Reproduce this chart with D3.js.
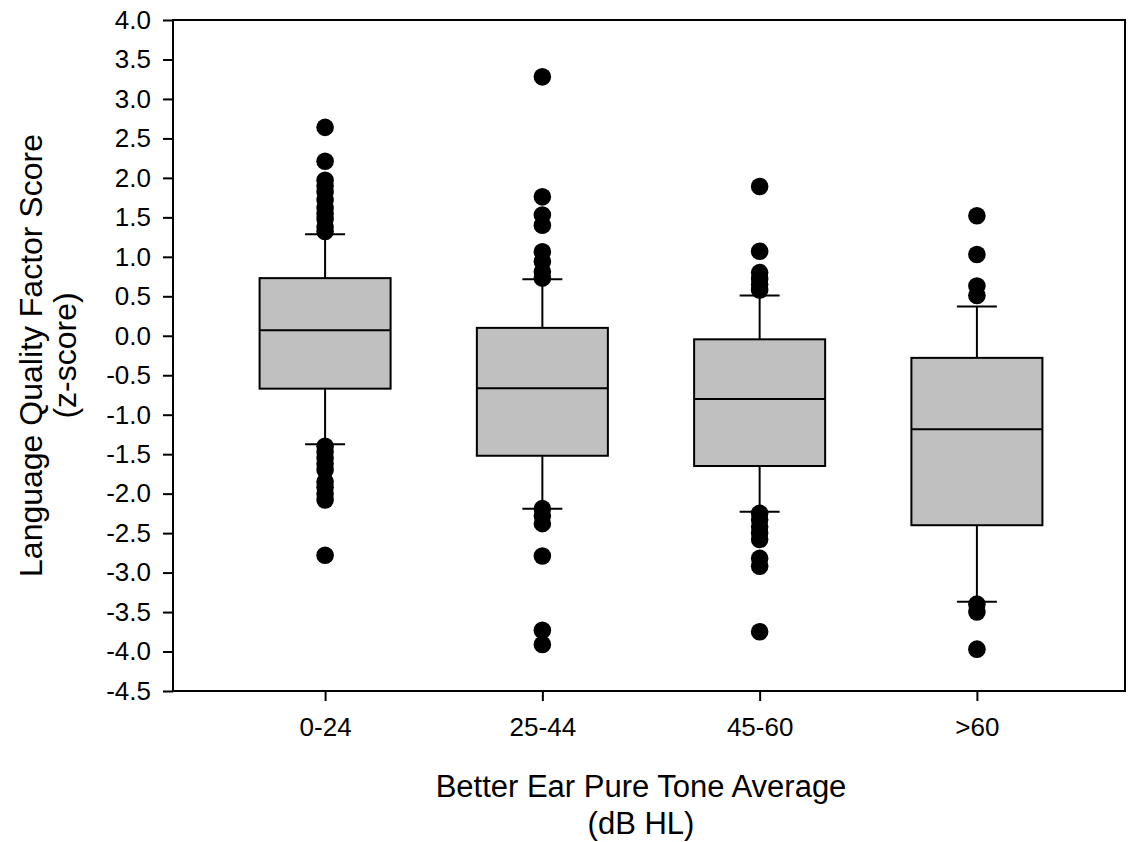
<!DOCTYPE html>
<html>
<head>
<meta charset="utf-8">
<script src="https://cdn.jsdelivr.net/npm/d3@7"></script>
<style>
  html, body { margin: 0; padding: 0; background: #fff; }
  svg { display: block; font-family: "Liberation Sans", Arial, Helvetica, sans-serif; }
</style>
</head>
<body>
<svg id="chart" width="1129" height="842"></svg>
<script>
// ---- Data ----
const categories = ["0-24", "25-44", "45-60", ">60"];
const q1Values = [-0.67, -1.52, -1.65, -2.40];
const medianValues = [0.07, -0.665, -0.80, -1.185];
const q3Values = [0.73, 0.10, -0.045, -0.28];
const whiskerLowValues = [-1.375, -2.19, -2.23, -3.37];
const whiskerHighValues = [1.285, 0.715, 0.51, 0.37];
const outliers0 = [2.64, 2.21, 1.97, 1.90, 1.82, 1.72, 1.62, 1.55, 1.48, 1.38, 1.32,
                   -1.40, -1.47, -1.55, -1.62, -1.70, -1.85, -1.92, -2.00, -2.08, -2.78];
const outliers1 = [3.28, 1.76, 1.53, 1.40, 1.065, 0.94, 0.81, 0.73,
                   -2.19, -2.28, -2.38, -2.79, -3.73, -3.91];
const outliers2 = [1.89, 1.07, 0.80, 0.72, 0.65, 0.58,
                   -2.25, -2.33, -2.42, -2.50, -2.58, -2.82, -2.92, -3.75];
const outliers3 = [1.52, 1.03, 0.63, 0.51, -3.40, -3.50, -3.97];
const outlierLists = [outliers0, outliers1, outliers2, outliers3];
const yTickValues = [-4.5, -4.0, -3.5, -3.0, -2.5, -2.0, -1.5, -1.0, -0.5, 0.0, 0.5, 1.0, 1.5, 2.0, 2.5, 3.0, 3.5, 4.0];
const yTickLabels = ["-4.5", "-4.0", "-3.5", "-3.0", "-2.5", "-2.0", "-1.5", "-1.0", "-0.5", "0.0", "0.5", "1.0", "1.5", "2.0", "2.5", "3.0", "3.5", "4.0"];
const xTitleLines = ["Better Ear Pure Tone Average", "(dB HL)"];
const yTitleLines = ["Language Quality Factor Score", "(z-score)"];

// ---- Layout ----
const plotLeft = 173, plotRight = 1125, plotTop = 20, plotBottom = 691;
const svg = d3.select("#chart");

const y = d3.scaleLinear().domain([-4.5, 4.0]).range([plotBottom, plotTop]);
const x = d3.scalePoint().domain(categories).range([plotLeft, 1129]).padding(0.7);
const boxW = x.step() * 0.603;
const capW = x.step() * 0.184;

// Frame
svg.append("rect")
  .attr("x", plotLeft).attr("y", plotTop)
  .attr("width", plotRight - plotLeft).attr("height", plotBottom - plotTop)
  .attr("fill", "none").attr("stroke", "#000").attr("stroke-width", 2);

// Y axis
const yAxis = d3.axisLeft(y)
  .tickValues(yTickValues)
  .tickFormat((d, i) => yTickLabels[i])
  .tickSizeInner(10).tickSizeOuter(0).tickPadding(12);
const gy = svg.append("g").attr("transform", `translate(${plotLeft},0)`).call(yAxis);
gy.select(".domain").remove();
gy.selectAll("line").attr("stroke", "#000").attr("stroke-width", 2);
gy.selectAll("text").attr("font-size", 26).attr("fill", "#000")
  .attr("font-family", "'Liberation Sans', Arial, sans-serif");

// X axis
const xAxis = d3.axisBottom(x).tickSizeInner(10).tickSizeOuter(0).tickPadding(17);
const gx = svg.append("g").attr("transform", `translate(0,${plotBottom})`).call(xAxis);
gx.select(".domain").remove();
gx.selectAll("line").attr("stroke", "#000").attr("stroke-width", 2);
gx.selectAll("text").attr("font-size", 26).attr("fill", "#000")
  .attr("font-family", "'Liberation Sans', Arial, sans-serif");

// Boxes
const groups = categories.map((c, i) => ({
  cat: c, q1: q1Values[i], med: medianValues[i], q3: q3Values[i],
  lo: whiskerLowValues[i], hi: whiskerHighValues[i], out: outlierLists[i]
}));

const g = svg.append("g");
const bg = g.selectAll("g.box").data(groups).join("g").attr("class", "box");

// whiskers
bg.append("line")
  .attr("x1", d => x(d.cat)).attr("x2", d => x(d.cat))
  .attr("y1", d => y(d.q3)).attr("y2", d => y(d.hi))
  .attr("stroke", "#000").attr("stroke-width", 2);
bg.append("line")
  .attr("x1", d => x(d.cat)).attr("x2", d => x(d.cat))
  .attr("y1", d => y(d.q1)).attr("y2", d => y(d.lo))
  .attr("stroke", "#000").attr("stroke-width", 2);
// caps
bg.append("line")
  .attr("x1", d => x(d.cat) - capW / 2).attr("x2", d => x(d.cat) + capW / 2)
  .attr("y1", d => y(d.hi)).attr("y2", d => y(d.hi))
  .attr("stroke", "#000").attr("stroke-width", 2);
bg.append("line")
  .attr("x1", d => x(d.cat) - capW / 2).attr("x2", d => x(d.cat) + capW / 2)
  .attr("y1", d => y(d.lo)).attr("y2", d => y(d.lo))
  .attr("stroke", "#000").attr("stroke-width", 2);
// box
bg.append("rect")
  .attr("x", d => x(d.cat) - boxW / 2).attr("width", boxW)
  .attr("y", d => y(d.q3)).attr("height", d => y(d.q1) - y(d.q3))
  .attr("fill", "#c0c0c0").attr("stroke", "#000").attr("stroke-width", 2);
// median
bg.append("line")
  .attr("x1", d => x(d.cat) - boxW / 2).attr("x2", d => x(d.cat) + boxW / 2)
  .attr("y1", d => y(d.med)).attr("y2", d => y(d.med))
  .attr("stroke", "#000").attr("stroke-width", 2);
// outliers
bg.selectAll("circle").data(d => d.out.map(v => ({cat: d.cat, v}))).join("circle")
  .attr("cx", d => x(d.cat)).attr("cy", d => y(d.v)).attr("r", 8.8)
  .attr("fill", "#000");

// Axis titles
const xt = svg.append("text").attr("text-anchor", "middle")
  .attr("font-size", 31).attr("fill", "#000");
xt.selectAll("tspan").data(xTitleLines).join("tspan")
  .attr("x", 641)
  .attr("y", (d, i) => 797 + i * 37)
  .text(d => d);

const ycx = (plotTop + plotBottom) / 2;
const yt = svg.append("text").attr("text-anchor", "middle")
  .attr("font-size", 32).attr("fill", "#000")
  .attr("transform", `rotate(-90)`);
yt.selectAll("tspan").data(yTitleLines).join("tspan")
  .attr("x", -ycx)
  .attr("y", (d, i) => 42 + i * 34)
  .text(d => d);
</script>
</body>
</html>
